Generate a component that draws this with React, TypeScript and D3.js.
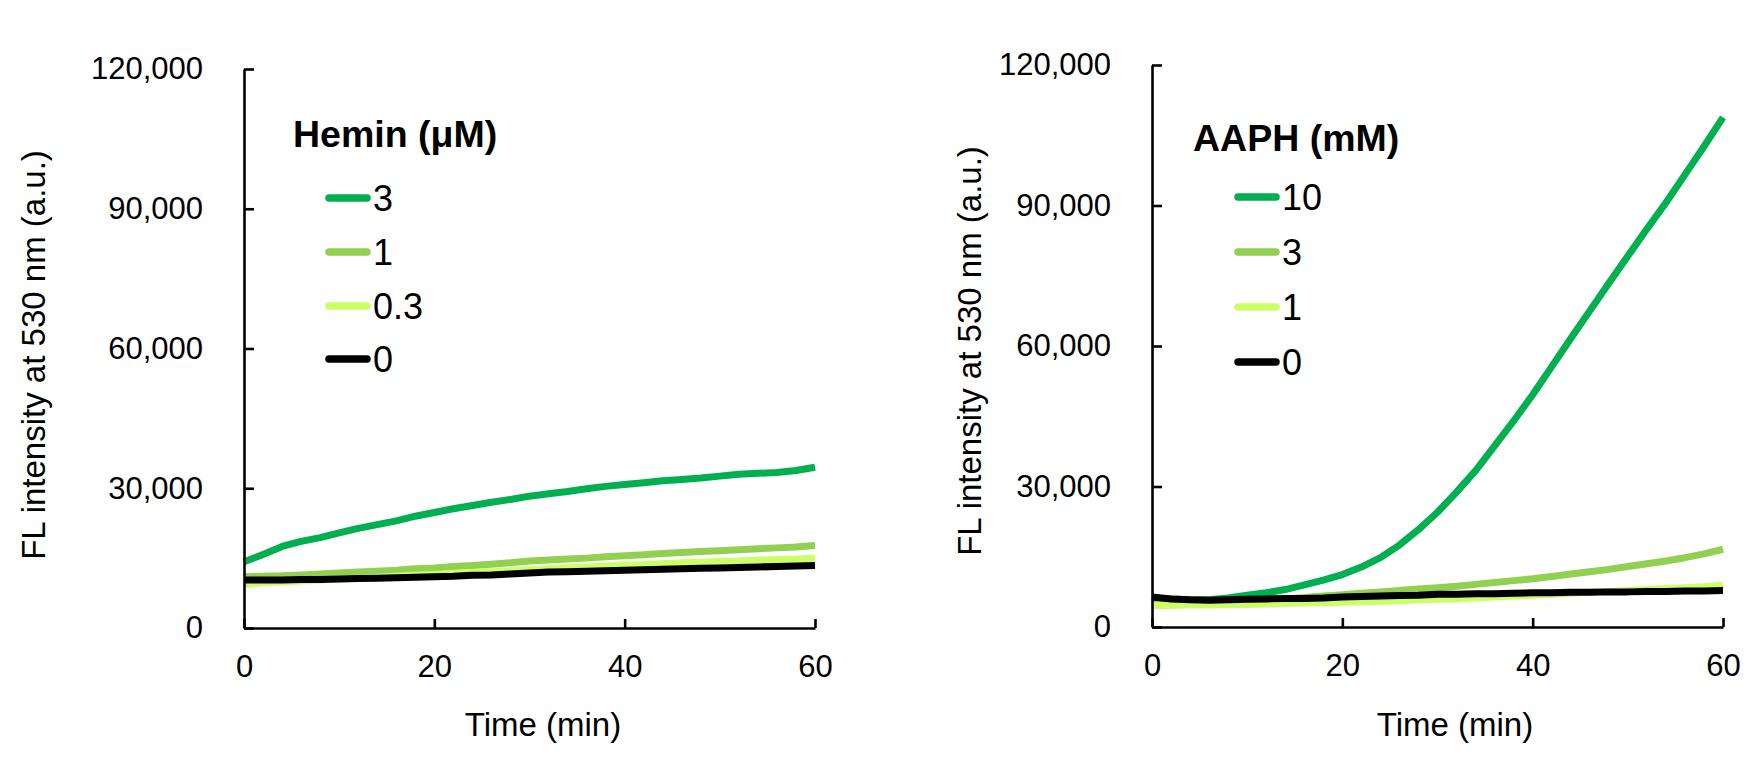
import React, { useRef, useEffect } from 'react';
import * as d3 from 'd3';

const WIDTH = 1753;
const HEIGHT = 761;
const FONT = 'Arial, "Liberation Sans", sans-serif';

// time points (min)
const timeMin: number[] = [0, 2, 4, 6, 8, 10, 12, 14, 16, 18, 20, 22, 24, 26, 28, 30, 32, 34, 36, 38, 40, 42, 44, 46, 48, 50, 52, 54, 56, 58, 60];

// Hemin panel (uM)
const hemin3: number[] = [14200, 15800, 17500, 18600, 19400, 20400, 21400, 22200, 23000, 24000, 24800, 25600, 26300, 27000, 27600, 28300, 28800, 29300, 29900, 30400, 30800, 31200, 31600, 31900, 32200, 32600, 33000, 33200, 33400, 33800, 34500];
const hemin1: number[] = [11000, 11100, 11200, 11400, 11600, 11800, 12000, 12200, 12400, 12700, 12900, 13200, 13400, 13700, 14000, 14400, 14600, 14800, 15000, 15300, 15500, 15700, 16000, 16200, 16400, 16600, 16800, 17000, 17200, 17400, 17700];
const hemin03: number[] = [9400, 9700, 9900, 10100, 10300, 10500, 10700, 10900, 11100, 11300, 11500, 11700, 11900, 12100, 12300, 12500, 12700, 12900, 13100, 13300, 13500, 13600, 13800, 14000, 14100, 14300, 14400, 14600, 14700, 14800, 15000];
const hemin0: number[] = [10300, 10300, 10300, 10400, 10400, 10500, 10600, 10700, 10800, 10900, 11000, 11100, 11300, 11400, 11600, 11800, 12000, 12100, 12200, 12300, 12400, 12500, 12600, 12700, 12800, 12900, 13000, 13100, 13200, 13300, 13400];

// AAPH panel (mM)
const aaph10: number[] = [6200, 6000, 5800, 5800, 6200, 6800, 7300, 8000, 9000, 10000, 11200, 12800, 14800, 17500, 20800, 24500, 28800, 33400, 38700, 44000, 49600, 55600, 61600, 67500, 73400, 79200, 85000, 90600, 96600, 102600, 108800];
const aaph3: number[] = [5000, 5100, 5200, 5300, 5400, 5600, 5800, 6000, 6300, 6600, 6900, 7200, 7500, 7800, 8100, 8400, 8700, 9100, 9500, 9900, 10300, 10800, 11300, 11800, 12300, 12900, 13500, 14100, 14800, 15600, 16600];
const aaph1: number[] = [4600, 4600, 4700, 4700, 4800, 4800, 4900, 5000, 5100, 5200, 5300, 5400, 5500, 5600, 5800, 5900, 6000, 6200, 6400, 6600, 6800, 7000, 7200, 7400, 7600, 7800, 8000, 8200, 8400, 8600, 8900];
const aaph0: number[] = [6400, 6000, 5800, 5700, 5800, 5900, 6000, 6100, 6100, 6200, 6400, 6500, 6600, 6700, 6800, 7000, 7000, 7100, 7100, 7200, 7300, 7300, 7400, 7400, 7500, 7500, 7600, 7600, 7700, 7700, 7800];

const heminLabels: string[] = ['3', '1', '0.3', '0'];
const aaphLabels: string[] = ['10', '3', '1', '0'];
const seriesColors: string[] = ['#00B050', '#92D050', '#CCFF66', '#000000'];

const yTicks: number[] = [0, 30000, 60000, 90000, 120000];
const xTicks: number[] = [0, 20, 40, 60];

interface IPanel {
    legendTitle: string;
    labels: string[];
    values: number[][];
    left: number;
    right: number;
    top: number;
    bottom: number;
    yTitleX: number;
    yTitleY: number;
    xTitleX: number;
    legendTitleX: number;
    legendTitleY: number;
    legendLineX: number;
    legendRowsY: number[];
};

const panels: IPanel[] = [
    {
        legendTitle: 'Hemin (\u03bcM)',
        labels: heminLabels,
        values: [hemin3, hemin1, hemin03, hemin0],
        left: 244, right: 815, top: 69, bottom: 628,
        yTitleX: 45, yTitleY: 355, xTitleX: 543,
        legendTitleX: 293, legendTitleY: 147,
        legendLineX: 325, legendRowsY: [198, 252, 306, 359],
    },
    {
        legendTitle: 'AAPH (mM)',
        labels: aaphLabels,
        values: [aaph10, aaph3, aaph1, aaph0],
        left: 1152, right: 1723, top: 65, bottom: 627,
        yTitleX: 981, yTitleY: 351, xTitleX: 1455,
        legendTitleX: 1193, legendTitleY: 151,
        legendLineX: 1234, legendRowsY: [197, 252, 307, 362],
    },
];

function drawPanel(svg: d3.Selection<SVGSVGElement, unknown, null, undefined>, p: IPanel) {
    const x = d3.scaleLinear().domain([0, 60]).range([p.left, p.right]);
    const y = d3.scaleLinear().domain([0, 120000]).range([p.bottom, p.top]);

    const g = svg.append('g');

    // data lines, black drawn last
    const line = d3.line<number>()
        .x((_, i) => x(timeMin[i]))
        .y(d => y(d));

    g.append('g')
        .selectAll('path')
        .data(p.values)
        .join('path')
            .attr('d', d => line(d))
            .attr('fill', 'none')
            .attr('stroke', (_, i) => seriesColors[i])
            .attr('stroke-width', 7)
            .attr('stroke-linejoin', 'round');

    // axes with inward ticks
    const yAxis = g.append('g')
        .attr('transform', `translate(${p.left},0)`)
        .call(d3.axisLeft(y).tickValues(yTicks).tickFormat(d3.format(',')).tickSizeInner(-10).tickSizeOuter(0).tickPadding(41));
    const xAxis = g.append('g')
        .attr('transform', `translate(0,${p.bottom})`)
        .call(d3.axisBottom(x).tickValues(xTicks).tickSizeInner(-9).tickSizeOuter(0).tickPadding(27));

    [yAxis, xAxis].forEach(a => {
        a.attr('font-family', FONT).attr('font-size', 31);
        a.selectAll('path, line').attr('stroke', '#000').attr('stroke-width', 2.6);
        a.selectAll('text').attr('fill', '#000');
    });

    // axis titles
    g.append('text')
        .attr('transform', `translate(${p.yTitleX},${p.yTitleY}) rotate(-90)`)
        .attr('text-anchor', 'middle')
        .attr('font-family', FONT)
        .attr('font-size', 33)
        .text('FL intensity at 530 nm (a.u.)');

    g.append('text')
        .attr('x', p.xTitleX)
        .attr('y', 736)
        .attr('text-anchor', 'middle')
        .attr('font-family', FONT)
        .attr('font-size', 33)
        .text('Time (min)');

    // legend
    const legend = g.append('g').attr('font-family', FONT);
    legend.append('text')
        .attr('x', p.legendTitleX)
        .attr('y', p.legendTitleY)
        .attr('font-size', 37.5)
        .attr('font-weight', 'bold')
        .text(p.legendTitle);

    const rows = legend.selectAll('g.row')
        .data(p.labels)
        .join('g')
            .attr('class', 'row')
            .attr('transform', (_, i) => `translate(${p.legendLineX},${p.legendRowsY[i]})`);

    rows.append('line')
        .attr('x1', 4)
        .attr('x2', 42)
        .attr('stroke', (_, i) => seriesColors[i])
        .attr('stroke-width', 7.5)
        .attr('stroke-linecap', 'round');

    rows.append('text')
        .attr('x', 48)
        .attr('y', 13)
        .attr('font-size', 36)
        .text(d => d);
}

function App() {
    const ref = useRef<SVGSVGElement>(null);

    useEffect(() => {
        if (!ref.current) return;
        const svg = d3.select(ref.current);
        svg.selectAll('*').remove();
        svg.append('rect').attr('width', WIDTH).attr('height', HEIGHT).attr('fill', '#fff');
        panels.forEach(p => drawPanel(svg, p));
    }, []);

    return (
        <div style={{ position: 'absolute', left: 0, top: 0 }}>
            <svg ref={ref} width={WIDTH} height={HEIGHT} style={{ display: 'block' }} />
        </div>
    );
}

export default App;
